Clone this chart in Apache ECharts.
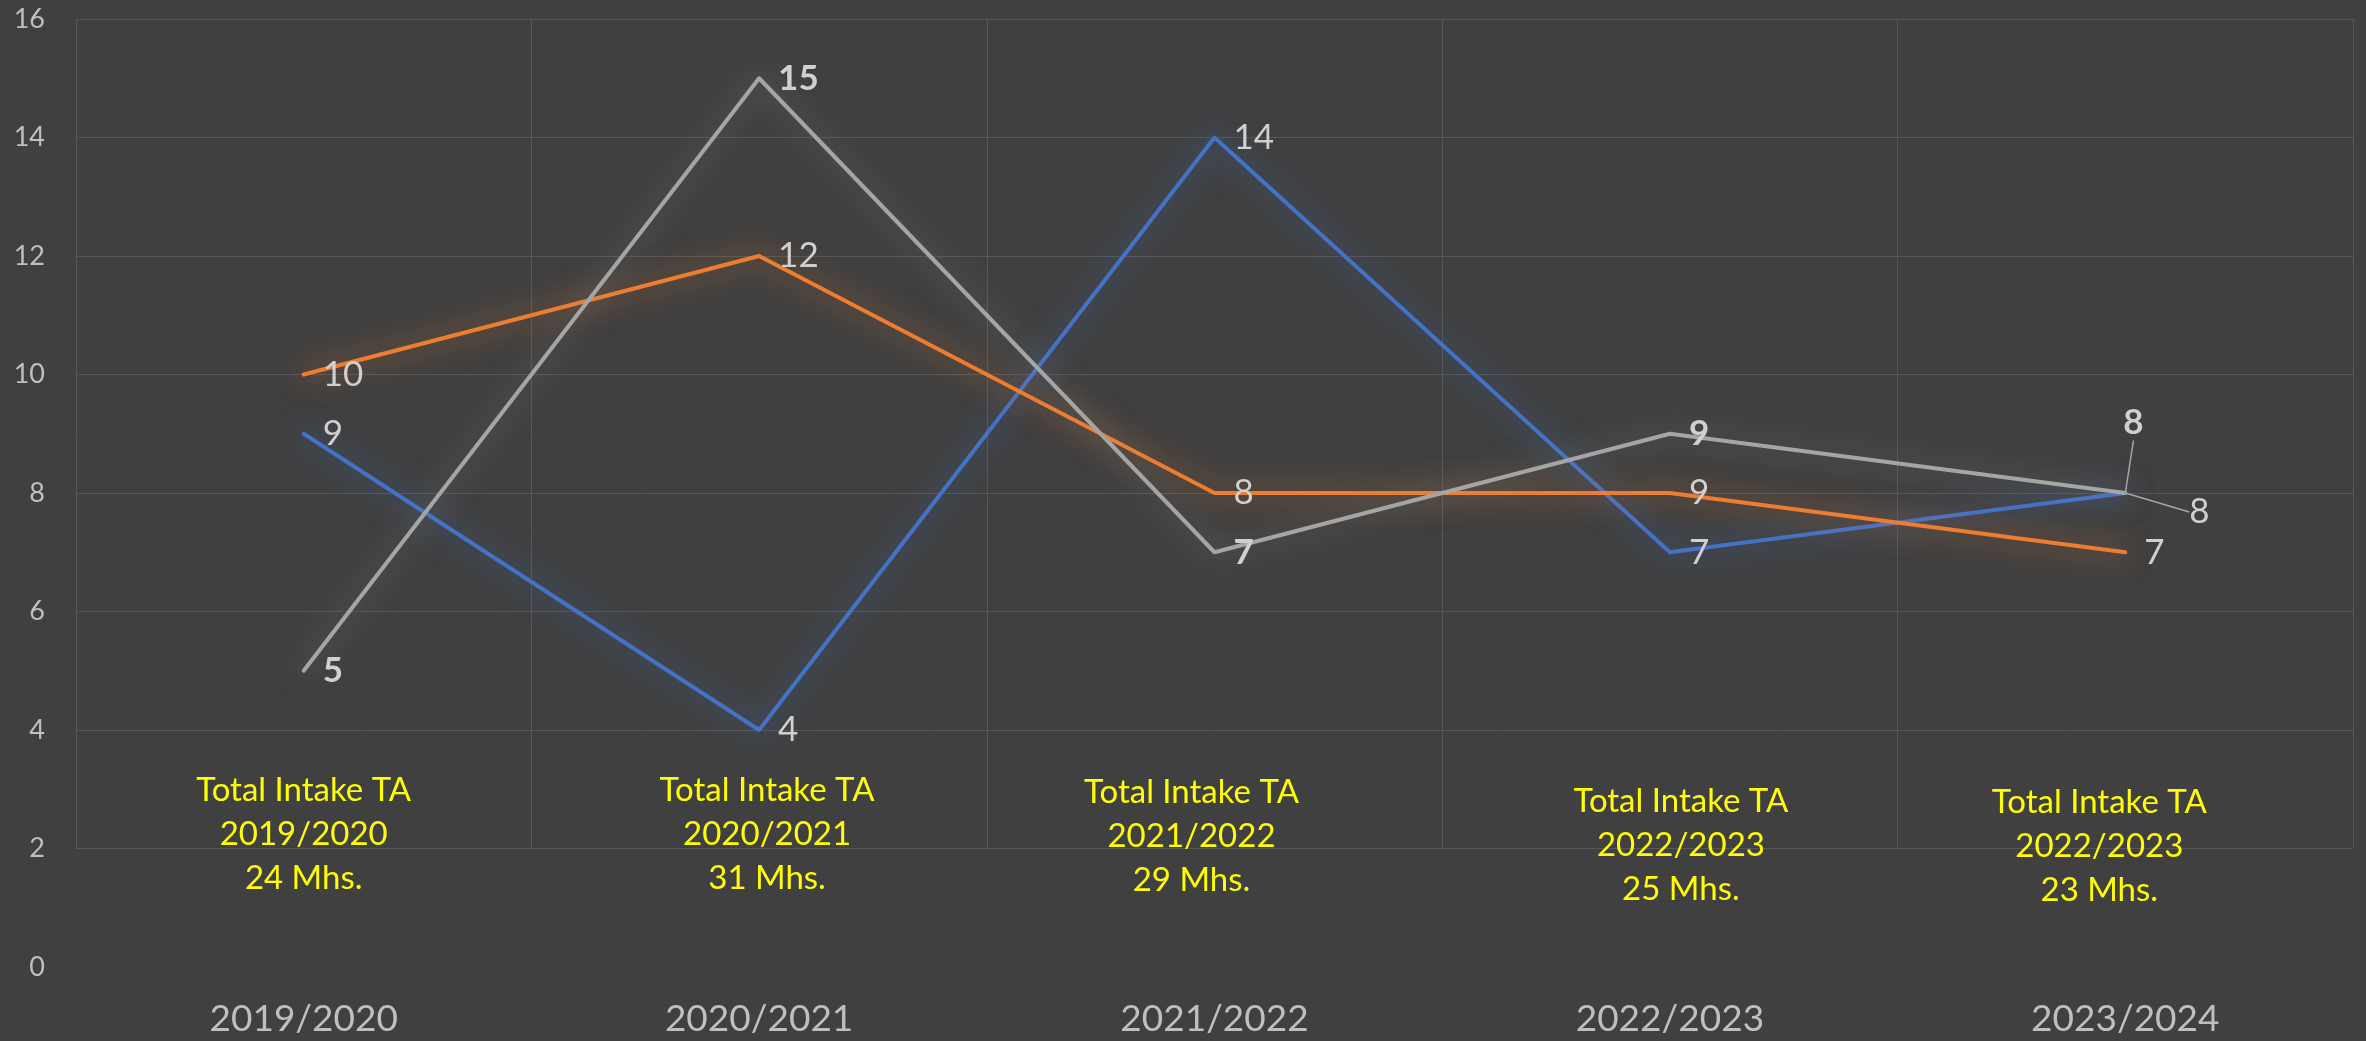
<!DOCTYPE html>
<html lang="en">
<head>
<meta charset="UTF-8" />
<title>Total Intake TA</title>
<script src="https://cdn.jsdelivr.net/npm/echarts@6/dist/echarts.min.js"></script>
<style>
  html, body { margin: 0; padding: 0; background: #404040; }
  #chart { width: 2366px; height: 1041px; }
</style>
</head>
<body>
<div id="chart"></div>
<script>
var years = ["2019/2020", "2020/2021", "2021/2022", "2022/2023", "2023/2024"];
var blueValues = [9, 4, 14, 7, 8];
var orangeValues = [10, 12, 8, 8, 7];
var orangeLabels = ["10", "12", "8", "9", "7"];
var greyValues = [5, 15, 7, 9, 8];
var intakeNotes = [
  ["Total Intake TA", "2019/2020", "24 Mhs."],
  ["Total Intake TA", "2020/2021", "31 Mhs."],
  ["Total Intake TA", "2021/2022", "29 Mhs."],
  ["Total Intake TA", "2022/2023", "25 Mhs."],
  ["Total Intake TA", "2022/2023", "23 Mhs."]
];

var FONT = "Lato";
var labelColor = "#d0d0d0";
var axisColor = "#bfbfbf";
var gridColor = "#575757";

// where each yellow note sits: [pixel shift from category centre, y value of block centre]
var notePlace = [[0, 2.24], [8, 2.24], [-23, 2.21], [11, 2.06], [-26, 2.03]];

var chart = echarts.init(document.getElementById("chart"));

function lineSeries(name, color, glow, values, bold, lastLabel) {
  var data = values.map(function (v) {
    return { value: v };
  });
  if (lastLabel) {
    data[data.length - 1].labelLine = { show: true };
  }
  return {
    name: name,
    type: "line",
    data: data,
    symbol: "circle",
    symbolSize: 2,
    showSymbol: true,
    itemStyle: { color: color },
    lineStyle: {
      color: color,
      width: 4,
      cap: "round",
      join: "round",
      shadowColor: glow,
      shadowBlur: 30
    },
    label: {
      show: true,
      position: "right",
      distance: 18,
      offset: [0, 3],
      color: labelColor,
      fontFamily: FONT,
      fontSize: 35,
      fontWeight: bold ? "bold" : "normal"
    },
    labelLine: { show: false, lineStyle: { color: "#a5a5a5", width: 1.5 } },
    labelLayout: function (p) {
      if (lastLabel && p.dataIndex === values.length - 1) return lastLabel;
      return {};
    },
    z: 3
  };
}

var blue = lineSeries("Blue", "#4472c4", "rgba(68,114,196,0.9)", blueValues, false,
  { dx: 45, dy: 19 });
var orange = lineSeries("Orange", "#ed7d31", "rgba(237,125,49,0.9)", orangeValues, false, null);
orange.label.formatter = function (p) { return orangeLabels[p.dataIndex]; };
var grey = lineSeries("Grey", "#a5a5a5", "rgba(165,165,165,0.55)", greyValues, true,
  { dx: -21, dy: -70 });

chart.setOption({
  backgroundColor: "#404040",
  animation: false,
  grid: [
    { left: 76, right: 13, top: 19, bottom: 74 },
    { left: 76, right: 13, top: 19, bottom: 193 }
  ],
  xAxis: [
    {
      type: "category",
      data: years,
      gridIndex: 0,
      boundaryGap: true,
      axisLine: { show: false },
      axisTick: { show: false },
      splitLine: { show: false },
      axisLabel: { color: axisColor, fontFamily: FONT, fontSize: 37, margin: 34 }
    },
    {
      type: "category",
      data: years,
      gridIndex: 1,
      boundaryGap: true,
      axisLine: { show: false },
      axisTick: { show: false },
      axisLabel: { show: false },
      splitLine: { show: true, lineStyle: { color: gridColor, width: 1 } }
    }
  ],
  yAxis: [
    {
      type: "value",
      gridIndex: 0,
      min: 0,
      max: 16,
      interval: 2,
      axisLine: { show: false },
      axisTick: { show: false },
      splitLine: { show: true, showMinLine: false, lineStyle: { color: gridColor, width: 1 } },
      axisLabel: { color: axisColor, fontFamily: FONT, fontSize: 27, margin: 31 }
    },
    {
      type: "value",
      gridIndex: 1,
      show: false,
      splitLine: { show: false }
    }
  ],
  series: [blue, orange, grey]
});

var texts = intakeNotes.map(function (lines, i) {
  var pt = chart.convertToPixel({ gridIndex: 0 }, [i, notePlace[i][1]]);
  return {
    type: "text",
    x: pt[0] + notePlace[i][0],
    y: pt[1],
    z: 10,
    style: {
      text: lines.join("\n"),
      fill: "#ffff00",
      fontFamily: FONT,
      fontSize: 33,
      lineHeight: 44,
      align: "center",
      verticalAlign: "middle"
    }
  };
});
chart.setOption({ graphic: texts });
</script>
</body>
</html>
